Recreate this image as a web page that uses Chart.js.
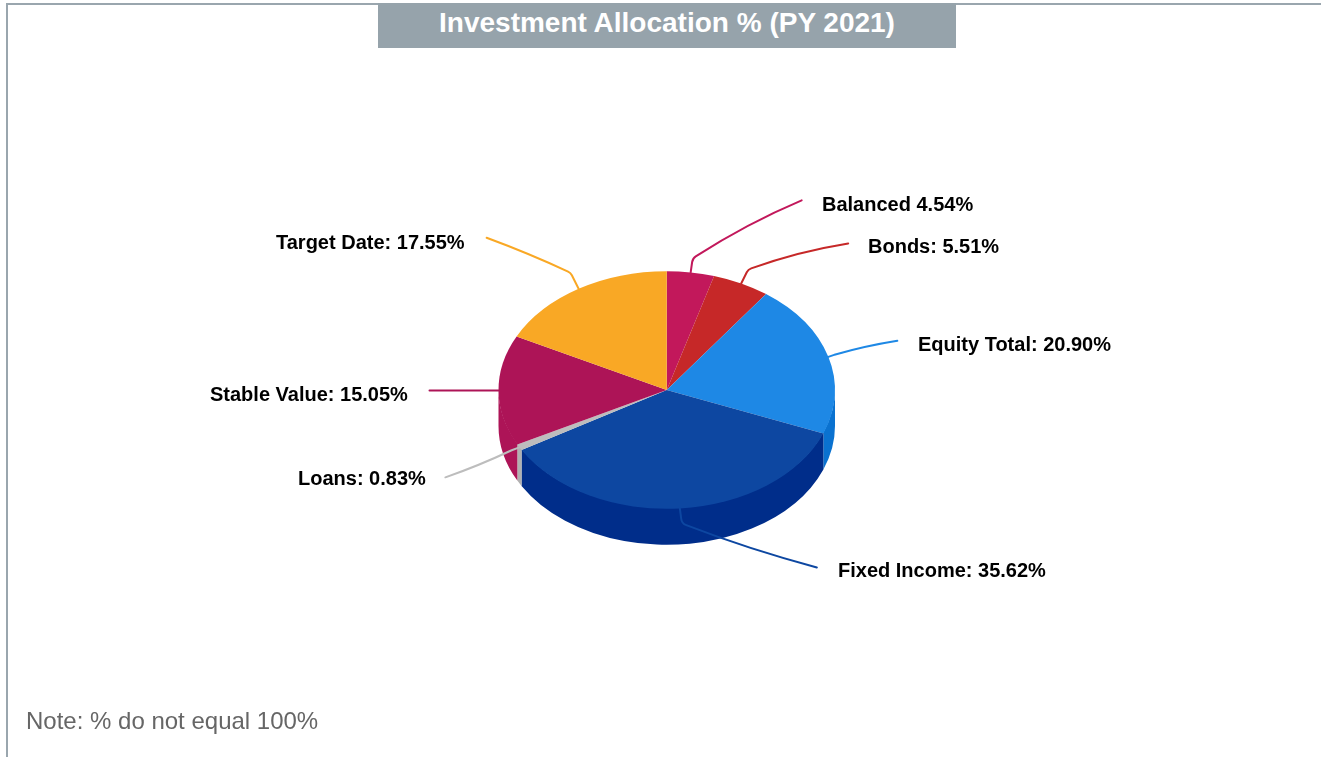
<!DOCTYPE html>
<html>
<head>
<meta charset="utf-8">
<style>
html,body{margin:0;padding:0;width:1321px;height:757px;background:#fff;overflow:hidden;font-family:"Liberation Sans",Arial,sans-serif}
#frame{position:absolute;left:6px;top:3px;width:1315px;height:754px;box-sizing:border-box;border-left:2px solid #9aa6ae;border-top:2px solid #9aa6ae}
#title{position:absolute;left:378px;top:3px;width:578px;height:45px;background:#96a3ab;color:#fff;font-weight:bold;font-size:28px;line-height:39px;text-align:center}
#note{position:absolute;left:26px;top:707px;color:#666;font-size:24px;line-height:28px;white-space:nowrap}
canvas{position:absolute;left:0;top:0}
</style>
</head>
<body>
<div id="frame"></div>
<canvas id="c" width="1321" height="757"></canvas>
<div id="title">Investment Allocation % (PY 2021)</div>
<div id="note">Note: % do not equal 100%</div>
<script src="https://cdn.jsdelivr.net/npm/chart.js@4"></script>
<script>
const categories = ["Balanced","Bonds","Equity Total","Fixed Income","Loans","Stable Value","Target Date"];
const values = [4.54,5.51,20.90,35.62,0.83,15.05,17.55];
const separators = [" ",": ",": ",": ",": ",": ",": "];
const topColors = ["#c2185b","#c62828","#1e88e5","#0d47a1","#bdbdbd","#ad1457","#f9a825"];
const wallColors = ["#a81150","#a82020","#0a72d0","#002d8a","#b0b0b0","#ad1457","#d98f10"];

// Leader-line and label layout, as offsets from the anchor point on the pie rim
const leaderElbow = [[2,-14],[7,-14],[6,-2],[2,15],[-8,3],[-8,0],[-8,-16]];
const leaderEnd = [[111,-72],[107,-40],[69,-16],[137,59],[-74,30],[-69,0],[-92,-51]];
const leaderBow = [-6,-5,-2,4,2,0,-2];
const labelPos = [[822,205],[868,247],[918,345],[838,571],[298,479],[210,395],[276,243]];

const SQUASH = 119/168.5;
const DEPTH = 36;

function lateral(el){return {x:el.x,y:el.y,r:el.outerRadius,ry:el.outerRadius*SQUASH};}

const pie3d = {
  id:'pie3d',
  beforeDatasetsDraw(chart){
    const ctx = chart.ctx;
    const arcs = chart.getDatasetMeta(0).data;
    ctx.save();
    arcs.forEach((el,i)=>{
      const g = lateral(el);
      const a0 = Math.max(el.startAngle,0);
      const a1 = Math.min(el.endAngle,Math.PI);
      if(a1<=a0) return;
      ctx.beginPath();
      ctx.ellipse(g.x,g.y-1,g.r,g.ry,0,a0,a1,false);
      ctx.ellipse(g.x,g.y+DEPTH,g.r,g.ry,0,a1,a0,true);
      ctx.closePath();
      ctx.fillStyle = wallColors[i];
      ctx.fill();
    });
    ctx.restore();
    const g = lateral(arcs[0]);
    ctx.save();
    ctx.translate(g.x,g.y);
    ctx.scale(1,SQUASH);
    ctx.translate(-g.x,-g.y);
  },
  afterDatasetsDraw(chart){
    const ctx = chart.ctx;
    ctx.restore();
    const arcs = chart.getDatasetMeta(0).data;
    ctx.save();
    ctx.lineWidth = 2;
    ctx.lineCap = 'round';
    ctx.lineJoin = 'round';
    arcs.forEach((el,i)=>{
      const g = lateral(el);
      const mid = (el.startAngle+el.endAngle)/2;
      const ax = g.x+g.r*Math.cos(mid), ay = g.y+g.ry*Math.sin(mid);
      const bx = ax+leaderElbow[i][0], by = ay+leaderElbow[i][1];
      const ex = ax+leaderEnd[i][0], ey = ay+leaderEnd[i][1];
      const cx = (bx+ex)/2, cy = (by+ey)/2+leaderBow[i];
      ctx.strokeStyle = topColors[i];
      ctx.beginPath();
      ctx.moveTo(ax,ay);
      ctx.arcTo(bx,by,cx,cy,8);
      ctx.quadraticCurveTo(cx,cy,ex,ey);
      ctx.stroke();
    });
    ctx.fillStyle = '#000';
    ctx.font = 'bold 20px "Liberation Sans", Arial, sans-serif';
    ctx.textAlign = 'left';
    ctx.textBaseline = 'middle';
    categories.forEach((c,i)=>{
      const p = labelPos[i];
      ctx.fillText(c+separators[i]+values[i].toFixed(2)+'%',p[0],p[1]);
    });
    ctx.restore();
  }
};

new Chart(document.getElementById('c'),{
  type:'pie',
  data:{labels:categories,datasets:[{data:values,backgroundColor:topColors,borderWidth:0,hoverOffset:0}]},
  options:{
    responsive:false,
    animation:false,
    events:[],
    devicePixelRatio:1,
    layout:{padding:{left:498.5,right:486,top:221.5,bottom:198.5}},
    plugins:{legend:{display:false},tooltip:{enabled:false},title:{display:false}}
  },
  plugins:[pie3d]
});
</script>
</body>
</html>
